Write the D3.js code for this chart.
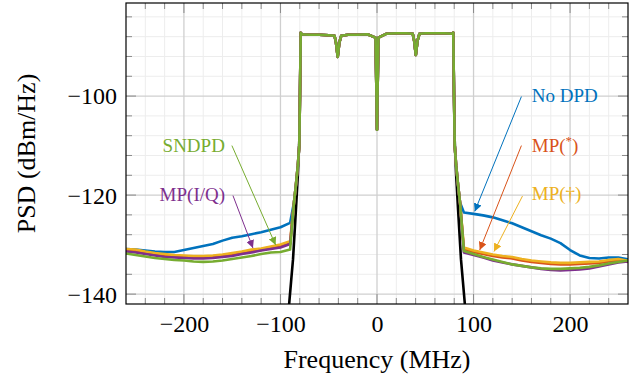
<!DOCTYPE html>
<html>
<head>
<meta charset="utf-8">
<script src="https://cdn.jsdelivr.net/npm/d3@7"></script>
<style>
  body { margin: 0; background: #fff; }
  svg { display: block; }
</style>
</head>
<body>
<div id="chart"></div>
<script>
// out-of-band frequencies (MHz)
const leftFreq = [-260, -250, -240, -230, -220, -210, -200, -190, -180, -170, -160, -150, -140, -130, -120, -110, -100, -90];
const rightFreq = [90, 100, 110, 120, 130, 140, 150, 160, 170, 180, 190, 200, 210, 220, 230, 240, 250, 260];

// in-band (shared by all curves)
const bandFreq = [-79, -78, -70, -60, -50, -44, -42.5, -40.7, -39, -37, -30, -20, -10, -1.5, -0.5, 0, 0.5, 1.5, 10, 20, 30, 37, 38.5, 40.2, 42, 44, 50, 60, 70, 78, 79];
const bandPSD = [-87.2, -87.5, -87.6, -87.6, -87.7, -87.8, -89.2, -92.1, -89.2, -87.8, -87.6, -87.6, -87.5, -88.2, -100, -106.8, -100, -88.2, -87.4, -87.3, -87.3, -87.4, -88.8, -91.7, -88.8, -87.4, -87.3, -87.3, -87.3, -87.4, -87.2];

// skirt (offset from band edge, mirrored on both sides)
const skirtFreq = [79.8, 80.5, 82, 84, 86];
const skirtPSD = [-100, -110, -114, -118, -121.5];
const refSkirtFreq = [79.8, 80.5, 82, 84, 87, 89, 91, 93];
const refSkirtPSD = [-100, -109, -116, -123, -133, -137.5, -142, -146];

// PSD per curve (dBm/Hz)
const noDpdLeft = [-130.9, -131.0, -131.2, -131.4, -131.5, -131.5, -131.1, -130.7, -130.3, -129.9, -129.2, -128.6, -128.3, -127.9, -127.5, -127.0, -126.5, -125.6];
const noDpdRight = [-123.5, -123.8, -124.1, -124.5, -125.1, -125.7, -126.5, -127.3, -128.1, -128.8, -129.7, -131.1, -132.2, -132.7, -132.8, -132.6, -132.6, -133.0];
const mpStarLeft = [-131.1, -131.3, -131.7, -132.0, -132.2, -132.4, -132.5, -132.6, -132.6, -132.5, -132.3, -132.0, -131.7, -131.3, -131.1, -130.7, -130.3, -129.8];
const mpStarRight = [-130.9, -131.5, -131.9, -132.3, -132.6, -132.8, -133.2, -133.5, -133.7, -133.9, -134.0, -134.0, -133.9, -133.8, -133.7, -133.4, -133.2, -133.5];
const mpDaggerLeft = [-130.9, -131.0, -131.4, -131.7, -131.9, -132.1, -132.2, -132.3, -132.3, -132.2, -132.0, -131.7, -131.4, -131.0, -130.8, -130.4, -130.0, -129.3];
const mpDaggerRight = [-130.6, -131.2, -131.6, -132.0, -132.3, -132.5, -132.9, -133.2, -133.4, -133.6, -133.7, -133.7, -133.6, -133.5, -133.4, -133.1, -132.9, -133.3];
const mpIQLeft = [-131.4, -131.6, -131.9, -132.2, -132.5, -132.6, -132.7, -132.8, -132.8, -132.7, -132.5, -132.3, -131.9, -131.6, -131.2, -130.9, -130.6, -129.9];
const mpIQRight = [-131.6, -132.1, -132.6, -133.2, -133.6, -134.0, -134.3, -134.6, -134.9, -135.1, -135.2, -135.1, -135.0, -134.8, -134.4, -134.0, -133.6, -133.4];
const sndpdLeft = [-131.8, -132.1, -132.4, -132.7, -132.9, -133.1, -133.2, -133.4, -133.5, -133.4, -133.2, -132.9, -132.6, -132.3, -131.9, -131.6, -131.5, -131.0];
const sndpdRight = [-131.3, -131.9, -132.5, -133.0, -133.5, -134.0, -134.3, -134.6, -134.8, -134.9, -134.9, -134.8, -134.7, -134.5, -134.2, -133.8, -133.5, -133.2];

const xTicks = [-200, -100, 0, 100, 200];
const yTicks = [-140, -120, -100];

// annotation: label position, line start, arrow tip (MHz, dBm/Hz)
const notes = [
  {text: 'No DPD', color: '#0072bd', at: [160.3, -101.15], from: [149.6, -100.1], to: [101.2, -123.3]},
  {text: 'MP(', sup: '*', tail: ')', color: '#d95319', at: [160.3, -111.2], from: [149.6, -110.0], to: [106.4, -131.1]},
  {text: 'MP(\u2020)', color: '#edb120', at: [160.3, -121.0], from: [150.7, -120.2], to: [121.2, -131.4]},
  {text: 'SNDPD', color: '#77ac30', at: [-222.1, -111.2], from: [-150.3, -110.0], to: [-105.0, -130.1]},
  {text: 'MP(I/Q)', color: '#7e2f8e', at: [-225.2, -121.2], from: [-149.2, -120.1], to: [-128.5, -130.7]}
];

const FONT = '"Liberation Serif", "DejaVu Serif", serif';
const width = 644, height = 382;
const pl = 126, pr = 628, pt = 3, pb = 304;

const x = d3.scaleLinear().domain([-260, 260]).range([pl, pr]);
const y = d3.scaleLinear().domain([-142, -81.2]).range([pb, pt]);

function buildCurve(lv, rv, sf, sp) {
  const pts = leftFreq.map((f, i) => [f, lv[i]]).filter(p => p[1] !== undefined);
  for (let i = sf.length - 1; i >= 0; i--) pts.push([-sf[i], sp[i]]);
  bandFreq.forEach((f, i) => pts.push([f, bandPSD[i]]));
  sf.forEach((f, i) => pts.push([f, sp[i]]));
  rightFreq.forEach((f, i) => { if (rv[i] !== undefined) pts.push([f, rv[i]]); });
  return pts;
}

const curves = [
  {color: '#000000', pts: buildCurve([], [], refSkirtFreq, refSkirtPSD)},
  {color: '#0072bd', pts: buildCurve(noDpdLeft, noDpdRight, skirtFreq, skirtPSD)},
  {color: '#d95319', pts: buildCurve(mpStarLeft, mpStarRight, skirtFreq, skirtPSD)},
  {color: '#edb120', pts: buildCurve(mpDaggerLeft, mpDaggerRight, skirtFreq, skirtPSD)},
  {color: '#7e2f8e', pts: buildCurve(mpIQLeft, mpIQRight, skirtFreq, skirtPSD)},
  {color: '#77ac30', pts: buildCurve(sndpdLeft, sndpdRight, skirtFreq, skirtPSD)}
];

const svg = d3.select('#chart').append('svg')
  .attr('width', width)
  .attr('height', height)
  .style('font-family', FONT);

const defs = svg.append('defs');
defs.append('clipPath').attr('id', 'plot')
  .append('rect')
  .attr('x', pl).attr('y', pt)
  .attr('width', pr - pl).attr('height', pb - pt);

notes.forEach((n, i) => {
  defs.append('marker')
    .attr('id', 'arrow' + i)
    .attr('viewBox', '0 0 10 10')
    .attr('refX', 10).attr('refY', 5)
    .attr('markerWidth', 8).attr('markerHeight', 8)
    .attr('markerUnits', 'userSpaceOnUse')
    .attr('orient', 'auto')
    .append('path')
    .attr('d', 'M0,0 L10,5 L0,10 Z')
    .attr('fill', n.color);
});

// grid
const minorX = d3.range(-240, 260, 20).filter(v => v % 100 !== 0);
const minorY = d3.range(-140, -81, 4).filter(v => v % 20 !== 0);

const grid = svg.append('g');
grid.selectAll('.mx').data(minorX).enter().append('line')
  .attr('x1', d => x(d)).attr('x2', d => x(d))
  .attr('y1', pt).attr('y2', pb)
  .attr('stroke', '#ededed').attr('stroke-width', 1);
grid.selectAll('.my').data(minorY).enter().append('line')
  .attr('x1', pl).attr('x2', pr)
  .attr('y1', d => y(d)).attr('y2', d => y(d))
  .attr('stroke', '#ededed').attr('stroke-width', 1);
grid.selectAll('.gx').data(xTicks).enter().append('line')
  .attr('x1', d => x(d)).attr('x2', d => x(d))
  .attr('y1', pt).attr('y2', pb)
  .attr('stroke', '#cfcfcf').attr('stroke-width', 1.3);
grid.selectAll('.gy').data(yTicks).enter().append('line')
  .attr('x1', pl).attr('x2', pr)
  .attr('y1', d => y(d)).attr('y2', d => y(d))
  .attr('stroke', '#cfcfcf').attr('stroke-width', 1.3);

// ticks pointing inward on all four sides
const ticks = svg.append('g').attr('stroke', '#8a8a8a').attr('stroke-width', 1);
[[minorX, 6], [xTicks, 10]].forEach(([vals, len]) => {
  vals.forEach(v => {
    ticks.append('line').attr('x1', x(v)).attr('x2', x(v)).attr('y1', pb).attr('y2', pb - len);
    ticks.append('line').attr('x1', x(v)).attr('x2', x(v)).attr('y1', pt).attr('y2', pt + len);
  });
});
[[minorY, 6], [yTicks, 10]].forEach(([vals, len]) => {
  vals.forEach(v => {
    ticks.append('line').attr('x1', pl).attr('x2', pl + len).attr('y1', y(v)).attr('y2', y(v));
    ticks.append('line').attr('x1', pr).attr('x2', pr - len).attr('y1', y(v)).attr('y2', y(v));
  });
});

// curves
const line = d3.line().x(d => x(d[0])).y(d => y(d[1]));
svg.append('g').attr('clip-path', 'url(#plot)')
  .selectAll('path')
  .data(curves)
  .enter()
  .append('path')
  .attr('d', d => line(d.pts))
  .attr('fill', 'none')
  .attr('stroke', d => d.color)
  .attr('stroke-width', 2.6)
  .attr('stroke-linejoin', 'round');

// frame
svg.append('rect')
  .attr('x', pl).attr('y', pt)
  .attr('width', pr - pl).attr('height', pb - pt)
  .attr('fill', 'none')
  .attr('stroke', '#000')
  .attr('stroke-width', 1.2);

// axes labels
const fmt = d => d < 0 ? '\u2212' + Math.abs(d) : String(d);
svg.append('g')
  .attr('transform', `translate(0,${pb})`)
  .call(d3.axisBottom(x).tickValues(xTicks).tickSize(0).tickFormat(fmt))
  .call(g => g.attr('font-family', null).attr('font-size', null))
  .call(g => g.select('.domain').remove())
  .call(g => g.selectAll('text')
    .attr('y', 28).attr('dy', 0)
    .attr('fill', '#000')
    .style('font-size', '24px')
    .style('font-family', FONT));

svg.append('g')
  .attr('transform', `translate(${pl},0)`)
  .call(d3.axisLeft(y).tickValues(yTicks).tickSize(0).tickPadding(9).tickFormat(fmt))
  .call(g => g.attr('font-family', null).attr('font-size', null))
  .call(g => g.select('.domain').remove())
  .call(g => g.selectAll('text')
    .attr('fill', '#000')
    .attr('dy', '0.33em')
    .style('font-size', '24px')
    .style('font-family', FONT));

svg.append('text')
  .attr('x', (pl + pr) / 2)
  .attr('y', 368)
  .attr('text-anchor', 'middle')
  .style('font-family', FONT)
  .style('font-size', '26px')
  .text('Frequency (MHz)');

svg.append('text')
  .attr('transform', `translate(35,${(pt + pb) / 2}) rotate(-90)`)
  .attr('text-anchor', 'middle')
  .style('font-family', FONT)
  .style('font-size', '26px')
  .text('PSD (dBm/Hz)');

// annotations
const ann = svg.append('g');
notes.forEach((n, i) => {
  ann.append('line')
    .attr('x1', x(n.from[0])).attr('y1', y(n.from[1]))
    .attr('x2', x(n.to[0])).attr('y2', y(n.to[1]))
    .attr('stroke', n.color)
    .attr('stroke-width', 1)
    .attr('marker-end', `url(#arrow${i})`);
  const t = ann.append('text')
    .attr('x', x(n.at[0])).attr('y', y(n.at[1]))
    .attr('fill', n.color)
    .style('font-family', FONT)
    .style('font-size', '19px')
    .text(n.text);
  if (n.sup) {
    t.append('tspan').attr('dy', -7).style('font-size', '13px').text(n.sup);
    t.append('tspan').attr('dy', 7).text(n.tail);
  }
});
</script>
</body>
</html>
